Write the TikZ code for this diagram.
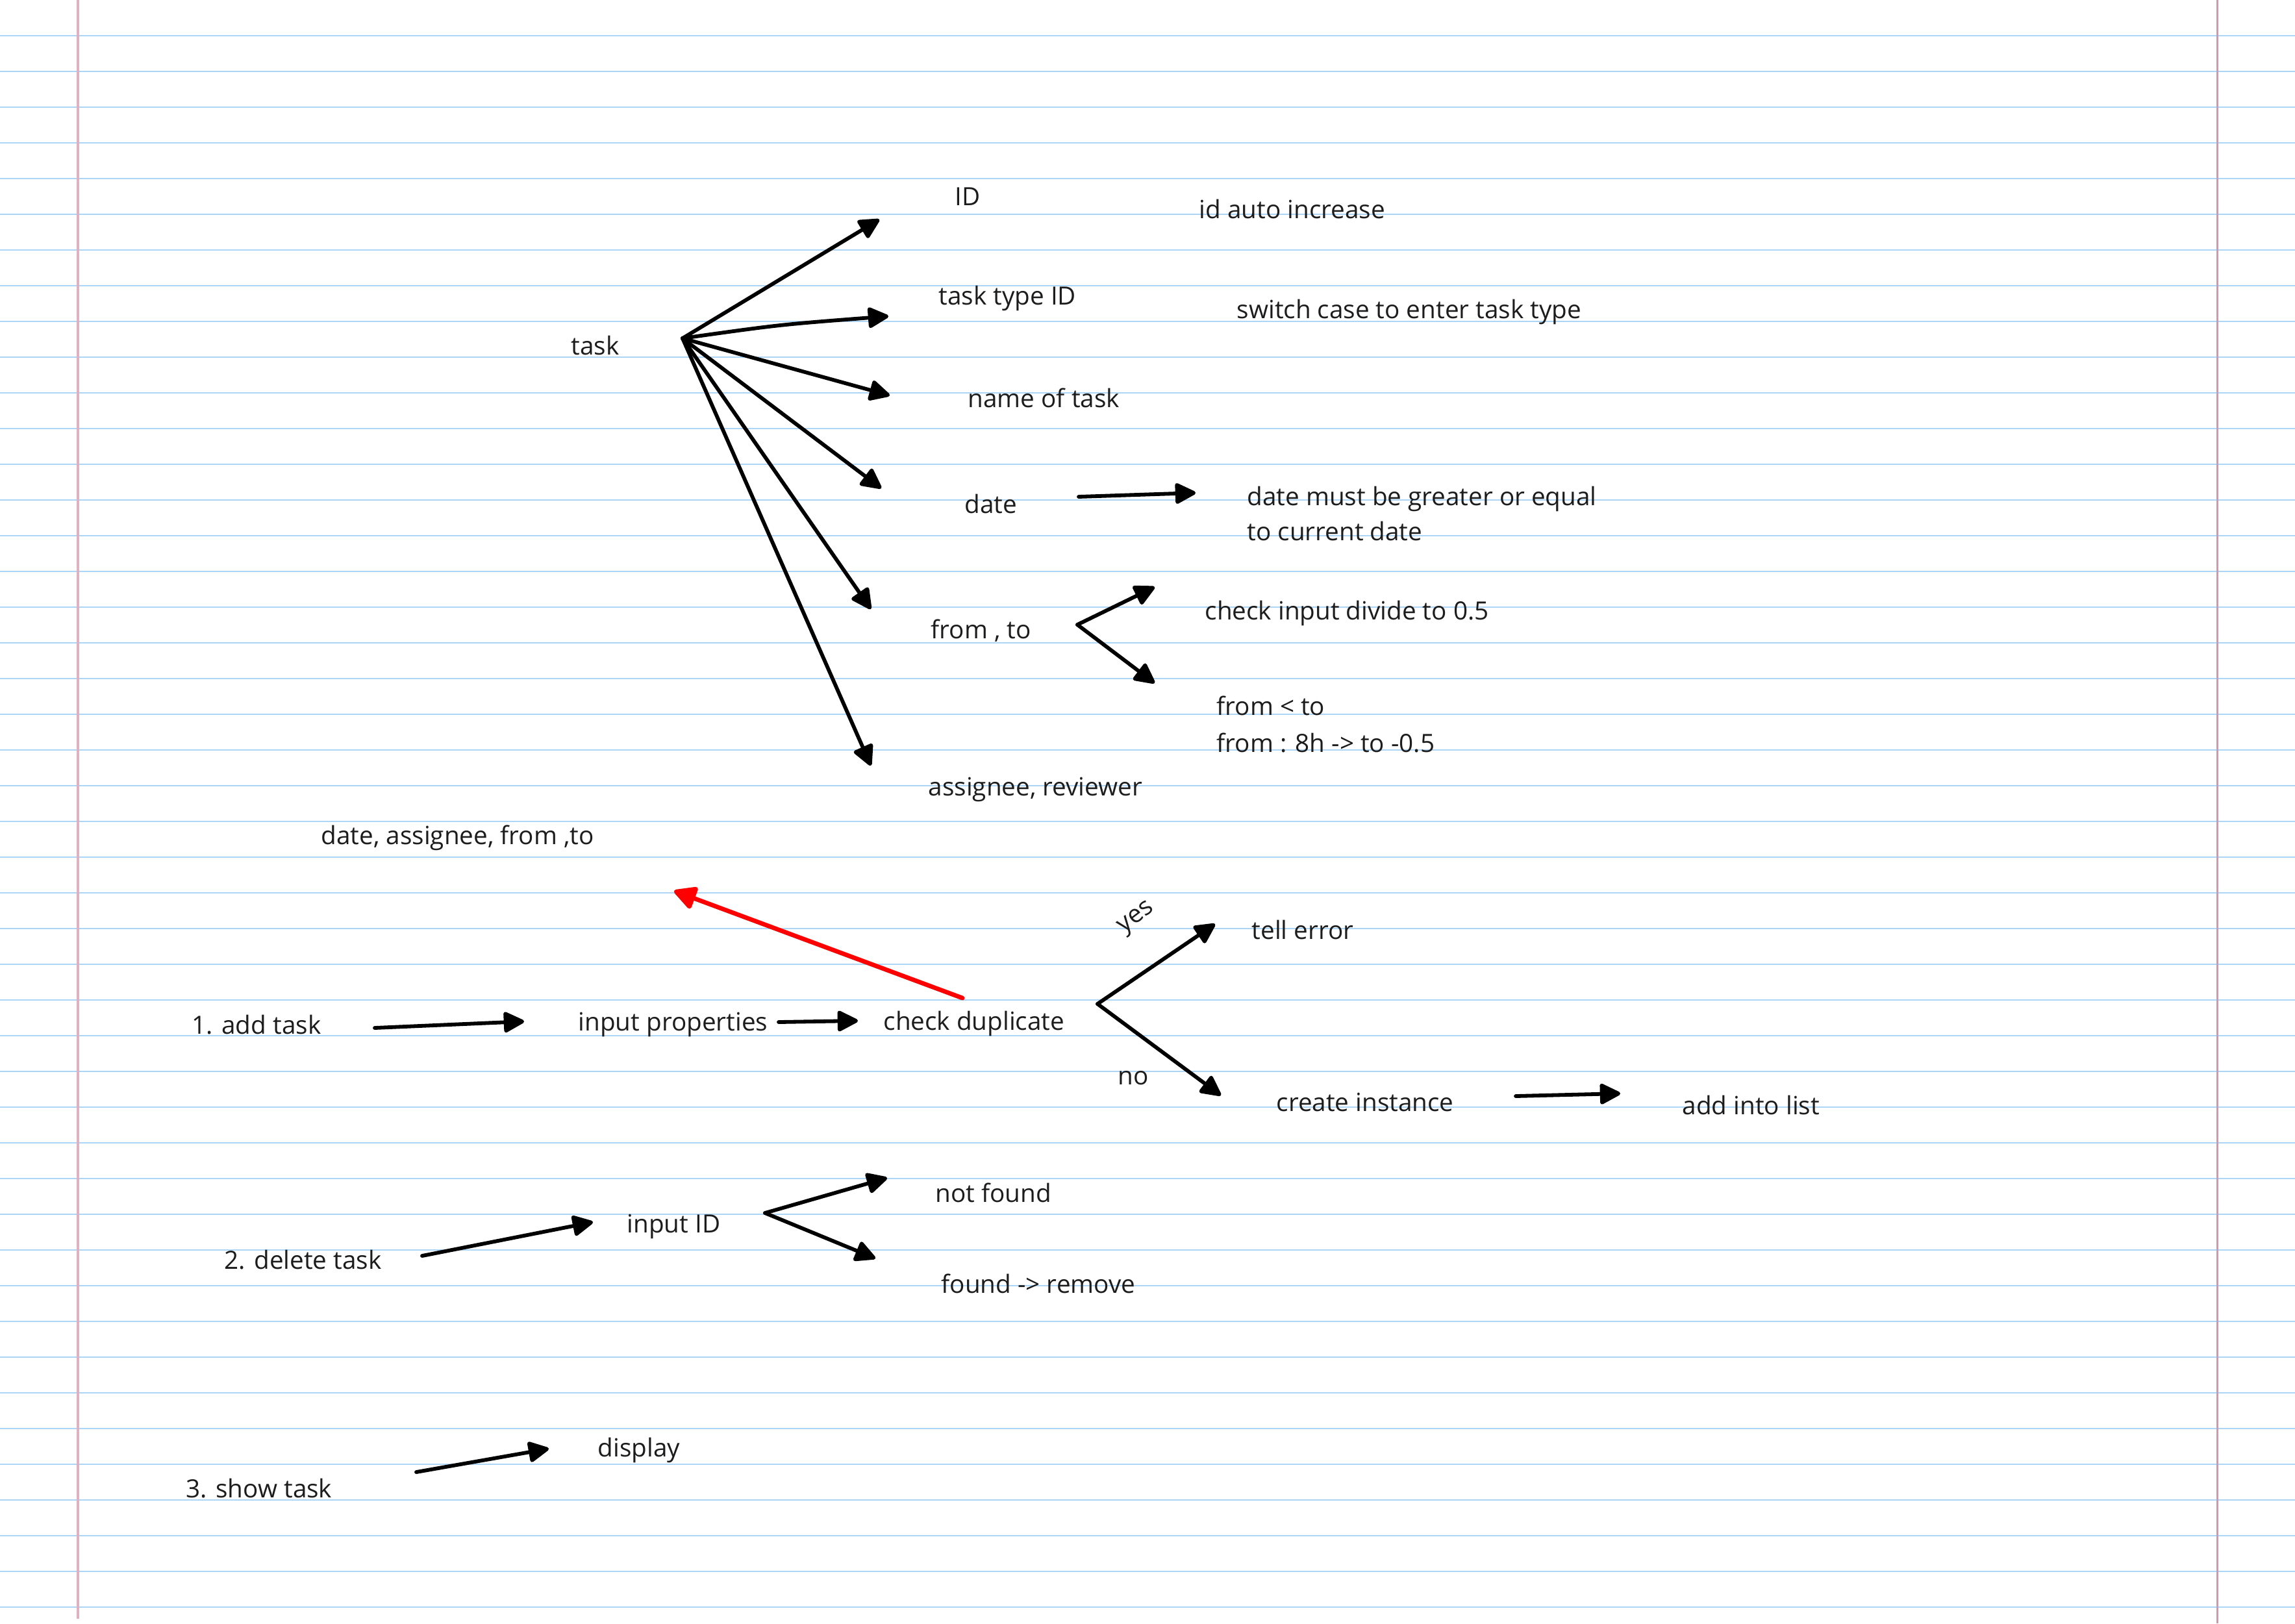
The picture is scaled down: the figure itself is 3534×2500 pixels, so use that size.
\documentclass[tikz,border=0pt]{standalone}
\usepackage{fontspec}
\setmainfont{Open Sans}
\usetikzlibrary{arrows.meta}
\definecolor{ruleblue}{RGB}{172,213,246}
\definecolor{marginpink}{RGB}{222,178,194}
\definecolor{marginred}{RGB}{214,150,172}
\definecolor{ink}{RGB}{28,28,28}
\begin{document}
\begin{tikzpicture}[x=0.1mm,y=-0.1mm,
  txt/.style={font=\fontsize{11}{13}\selectfont, text=ink, inner sep=0pt, anchor=base west},
  arr/.style={draw=black, line width=0.58mm, line cap=round, line join=round,
    -{Triangle[length=3.5mm,width=3.4mm,round]}},
  redarr/.style={draw=red, line width=0.68mm, line cap=round, line join=round,
    -{Triangle[length=3.8mm,width=3.8mm,round]}}]
\fill[white] (0,0) rectangle (3534,2500);
\useasboundingbox (0,0) rectangle (3534,2500);
% ruled paper
\foreach \k in {1,...,45} {\draw[ruleblue, line width=0.2mm] (0,{55*\k}) -- (3534,{55*\k});}
\draw[marginpink, line width=0.4mm] (120,0) -- (120,2493);
\draw[marginred, line width=0.3mm] (3414,0) -- (3414,2500);

% ---- task properties ----
\node[txt] (task) at (879,546) {task};
\node[txt] (id) at (1470,316) {ID};
\node[txt] (idauto) at (1846,336) {id auto increase};
\node[txt] (tasktype) at (1445,469) {task type ID};
\node[txt] (switch) at (1904,490) {switch case to enter task type};
\node[txt] (name) at (1490,627) {name of task};
\node[txt] (date) at (1485,790) {date};
\node[txt] (datecond) at (1920,778) {date must be greater or equal};
\node[txt] (datecondb) at (1920,832) {to current date};
\node[txt] (fromto) at (1433,983) {from , to};
\node[txt] (divide) at (1855,954) {check input divide to 0.5};
\node[txt] (fromlt) at (1873,1101) {from < to};
\node[txt] (fromh) at (1873,1158) {from : 8h -> to -0.5};
\node[txt] (assignee) at (1429,1225) {assignee, reviewer};

\coordinate (hub) at (1051,521);
\coordinate (tID) at (1354,338);
\coordinate (tType) at (1368,487);
\coordinate (tName) at (1370,609);
\coordinate (tDate) at (1357,752);
\coordinate (tFrom) at (1341,938);
\coordinate (tAssign) at (1341,1179);
\draw[arr] (hub) -- (tID);
\draw[arr] (hub) .. controls (1200,500) .. (tType);
\draw[arr] (hub) -- (tName);
\draw[arr] (hub) -- (tDate);
\draw[arr] (hub) -- (tFrom);
\draw[arr] (hub) -- (tAssign);

\coordinate (dS) at (1661,765);
\coordinate (dE) at (1841,759);
\draw[arr] (dS) -- (dE);

\coordinate (fV) at (1659,962);
\coordinate (fUp) at (1778,904);
\coordinate (fDn) at (1778,1052);
\draw[arr] (fV) -- (fUp);
\draw[arr] (fV) -- (fDn);

% ---- add task ----
\node[txt] (dateassign) at (494,1300) {date, assignee, from ,to};
\node[txt] (add) at (295,1592) {1. add task};
\node[txt] (inprop) at (890,1587) {input properties};
\node[txt] (checkdup) at (1360,1586) {check duplicate};
\node[txt, anchor=center, rotate=37] (yes) at (1751,1415) {yes};
\node[txt, anchor=base] (no) at (1745,1670) {no};
\node[txt] (tell) at (1927,1446) {tell error};
\node[txt] (create) at (1965,1711) {create instance};
\node[txt] (addlist) at (2590,1716) {add into list};

\coordinate (redS) at (1482,1537);
\coordinate (redE) at (1038,1372);
\draw[redarr] (redS) -- (redE);

\coordinate (a1S) at (577,1583);
\coordinate (a1E) at (807,1573);
\draw[arr] (a1S) -- (a1E);
\coordinate (a2S) at (1199,1574);
\coordinate (a2E) at (1321,1572);
\draw[arr] (a2S) -- (a2E);
\coordinate (cV) at (1690,1546);
\coordinate (cYes) at (1871,1423);
\coordinate (cNo) at (1880,1687);
\draw[arr] (cV) -- (cYes);
\draw[arr] (cV) -- (cNo);
\coordinate (ciS) at (2334,1688);
\coordinate (ciE) at (2495,1684);
\draw[arr] (ciS) -- (ciE);

% ---- delete task ----
\node[txt] (del) at (345,1954) {2. delete task};
\node[txt] (inid) at (965,1898) {input ID};
\node[txt] (notfound) at (1440,1851) {not found};
\node[txt] (found) at (1449,1991) {found -> remove};
\coordinate (d1S) at (650,1934);
\coordinate (d1E) at (913,1882);
\draw[arr] (d1S) -- (d1E);
\coordinate (dV) at (1178,1868);
\coordinate (dUp) at (1366,1814);
\coordinate (dDn) at (1348,1938);
\draw[arr] (dV) -- (dUp);
\draw[arr] (dV) -- (dDn);

% ---- show task ----
\node[txt] (show) at (286,2306) {3. show task};
\node[txt] (display) at (920,2243) {display};
\coordinate (sS) at (641,2267);
\coordinate (sE) at (845,2231);
\draw[arr] (sS) -- (sE);
\end{tikzpicture}
\end{document}
